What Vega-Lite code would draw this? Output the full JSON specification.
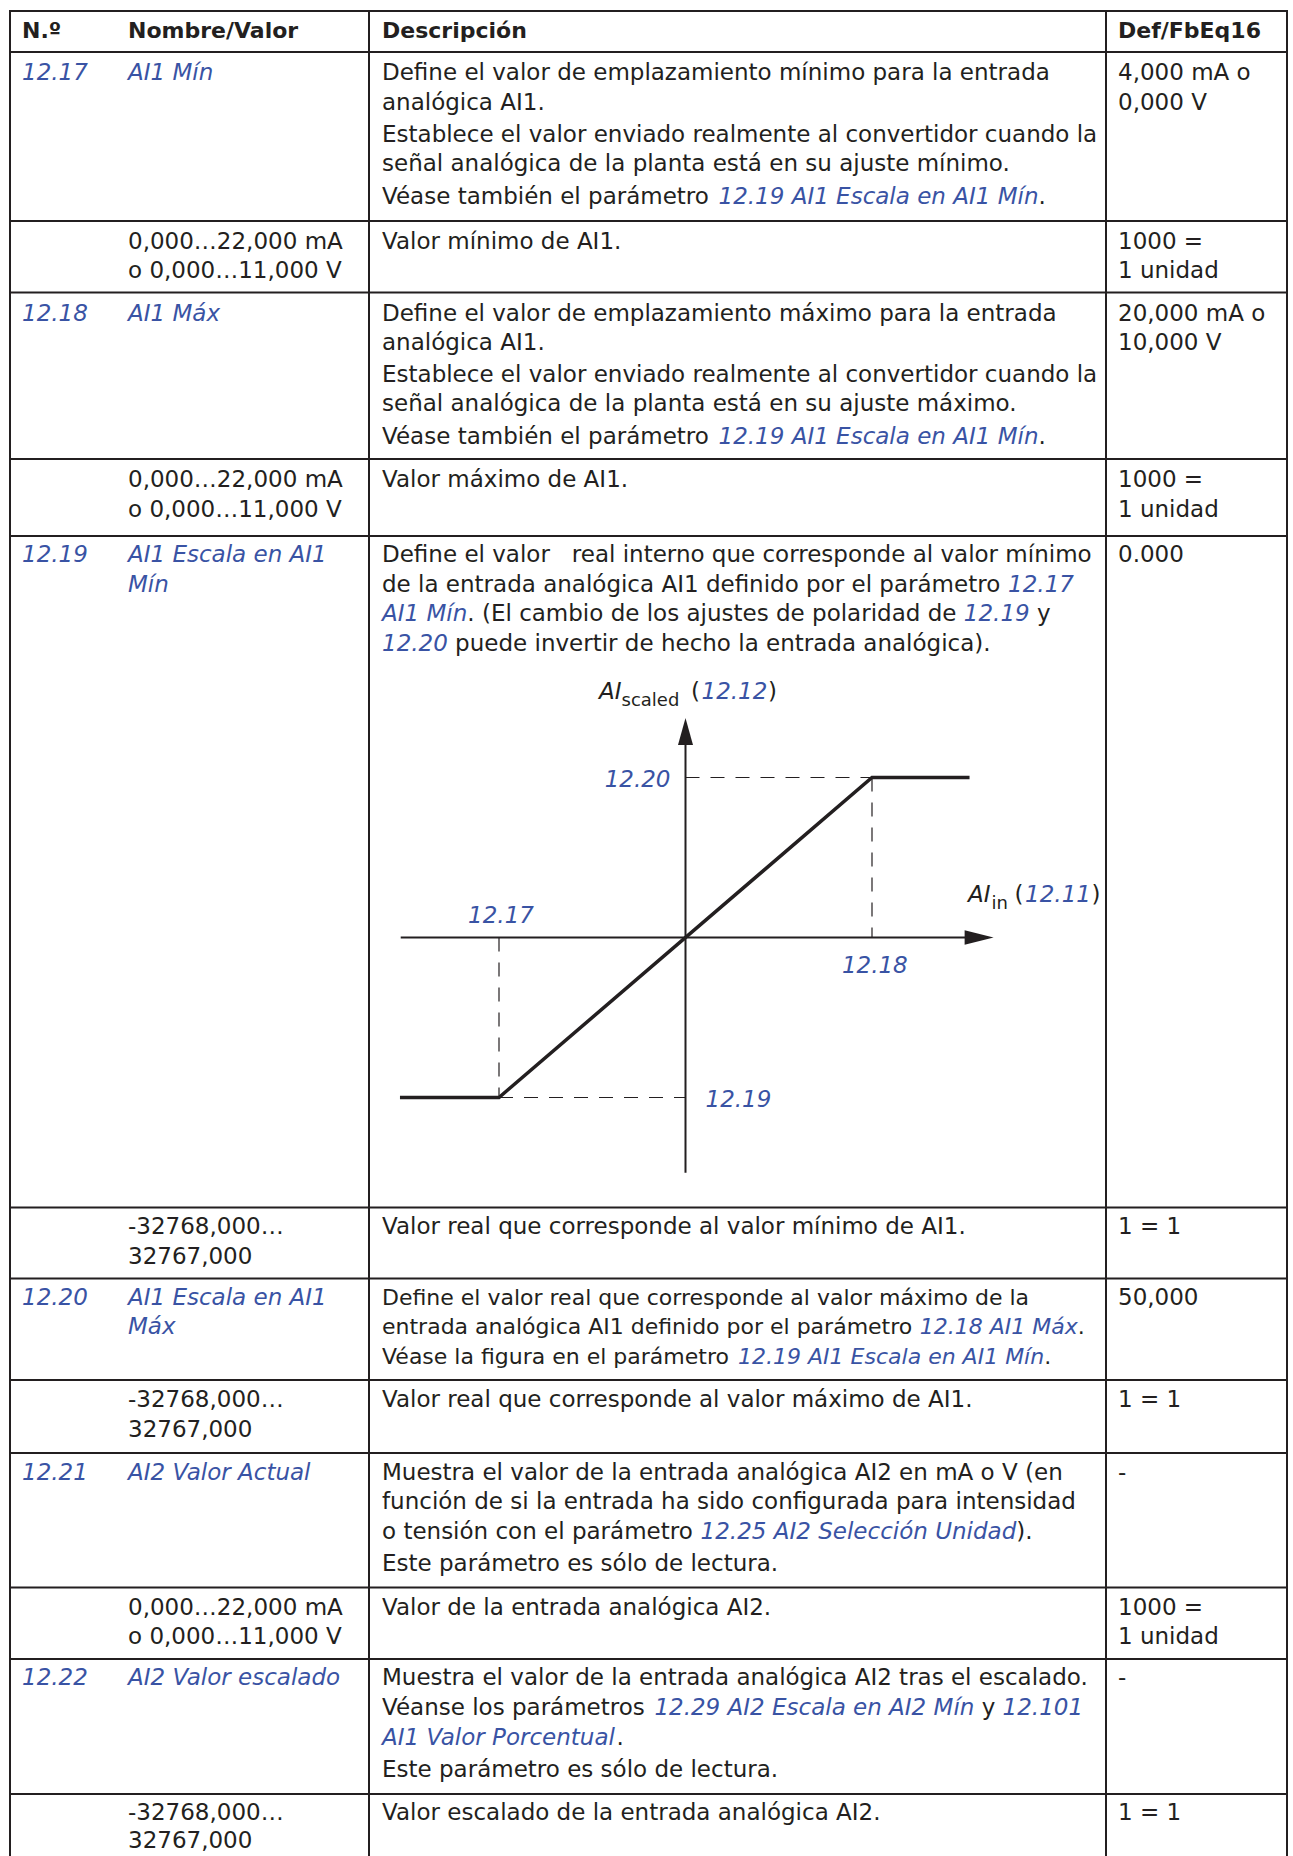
{
  "$schema": "https://vega.github.io/schema/vega-lite/v6.json",
  "width": 1293,
  "height": 1856,
  "padding": 0,
  "autosize": {"type": "none"},
  "background": "#ffffff",
  "config": {"view": {"stroke": null}},
  "datasets": {
    "hborders": [{"b":0},{"b":1},{"b":2},{"b":3},{"b":4},{"b":5},{"b":6},{"b":7},{"b":8},{"b":9},{"b":10},{"b":11},{"b":12}],
    "vborders": [{"e":0},{"e":1},{"e":2},{"e":3}],
    "cells": [
      {"g":0,"xs":0,"t":"N.º","k":"h"},
      {"g":0,"xs":1,"t":"Nombre/Valor","k":"h"},
      {"g":0,"xs":2,"t":"Descripción","k":"h"},
      {"g":0,"xs":3,"t":"Def/FbEq16","k":"h"},

      {"g":1,"xs":0,"t":"12.17","k":"a"},
      {"g":1,"xs":1,"t":"AI1 Mín","k":"a"},
      {"g":1,"xs":2,"t":"Define el valor de emplazamiento mínimo para la entrada","k":"n"},
      {"g":2,"xs":2,"t":"analógica AI1.","k":"n"},
      {"g":3,"xs":2,"t":"Establece el valor enviado realmente al convertidor cuando la","k":"n"},
      {"g":4,"xs":2,"t":"señal analógica de la planta está en su ajuste mínimo.","k":"n"},
      {"g":5,"xs":2,"t":"Véase también el parámetro","k":"n"},
      {"g":5,"xs":4,"t":"12.19 AI1 Escala en AI1 Mín","k":"a"},
      {"g":5,"xs":5,"t":".","k":"n"},
      {"g":1,"xs":3,"t":"4,000 mA o","k":"n"},
      {"g":2,"xs":3,"t":"0,000 V","k":"n"},

      {"g":6,"xs":1,"t":"0,000…22,000 mA","k":"n"},
      {"g":7,"xs":1,"t":"o 0,000…11,000 V","k":"n"},
      {"g":6,"xs":2,"t":"Valor mínimo de AI1.","k":"n"},
      {"g":6,"xs":3,"t":"1000 =","k":"n"},
      {"g":7,"xs":3,"t":"1 unidad","k":"n"},

      {"g":8,"xs":0,"t":"12.18","k":"a"},
      {"g":8,"xs":1,"t":"AI1 Máx","k":"a"},
      {"g":8,"xs":2,"t":"Define el valor de emplazamiento máximo para la entrada","k":"n"},
      {"g":9,"xs":2,"t":"analógica AI1.","k":"n"},
      {"g":10,"xs":2,"t":"Establece el valor enviado realmente al convertidor cuando la","k":"n"},
      {"g":11,"xs":2,"t":"señal analógica de la planta está en su ajuste máximo.","k":"n"},
      {"g":12,"xs":2,"t":"Véase también el parámetro","k":"n"},
      {"g":12,"xs":4,"t":"12.19 AI1 Escala en AI1 Mín","k":"a"},
      {"g":12,"xs":5,"t":".","k":"n"},
      {"g":8,"xs":3,"t":"20,000 mA o","k":"n"},
      {"g":9,"xs":3,"t":"10,000 V","k":"n"},

      {"g":13,"xs":1,"t":"0,000…22,000 mA","k":"n"},
      {"g":14,"xs":1,"t":"o 0,000…11,000 V","k":"n"},
      {"g":13,"xs":2,"t":"Valor máximo de AI1.","k":"n"},
      {"g":13,"xs":3,"t":"1000 =","k":"n"},
      {"g":14,"xs":3,"t":"1 unidad","k":"n"},

      {"g":15,"xs":0,"t":"12.19","k":"a"},
      {"g":15,"xs":1,"t":"AI1 Escala en AI1","k":"a"},
      {"g":16,"xs":1,"t":"Mín","k":"a"},
      {"g":15,"xs":2,"t":"Define el valor\u00a0\u00a0 real interno que corresponde al valor mínimo","k":"n"},
      {"g":16,"xs":2,"t":"de la entrada analógica AI1 definido por el parámetro","k":"n"},
      {"g":16,"xs":6,"t":"12.17","k":"a"},
      {"g":17,"xs":2,"t":"AI1 Mín","k":"a"},
      {"g":17,"xs":7,"t":". (El cambio de los ajustes de polaridad de","k":"n"},
      {"g":17,"xs":8,"t":"12.19","k":"a"},
      {"g":17,"xs":9,"t":"y","k":"n"},
      {"g":18,"xs":2,"t":"12.20","k":"a"},
      {"g":18,"xs":10,"t":"puede invertir de hecho la entrada analógica).","k":"n"},
      {"g":15,"xs":3,"t":"0.000","k":"n"},

      {"g":19,"xs":1,"t":"-32768,000…","k":"n"},
      {"g":20,"xs":1,"t":"32767,000","k":"n"},
      {"g":19,"xs":2,"t":"Valor real que corresponde al valor mínimo de AI1.","k":"n"},
      {"g":19,"xs":3,"t":"1 = 1","k":"n"},

      {"g":21,"xs":0,"t":"12.20","k":"a"},
      {"g":21,"xs":1,"t":"AI1 Escala en AI1","k":"a"},
      {"g":22,"xs":1,"t":"Máx","k":"a"},
      {"g":21,"xs":2,"t":"Define el valor real que corresponde al valor máximo de la","k":"n"},
      {"g":22,"xs":2,"t":"entrada analógica AI1 definido por el parámetro","k":"n"},
      {"g":22,"xs":11,"t":"12.18 AI1 Máx","k":"a"},
      {"g":22,"xs":12,"t":".","k":"n"},
      {"g":23,"xs":2,"t":"Véase la figura en el parámetro","k":"n"},
      {"g":23,"xs":13,"t":"12.19 AI1 Escala en AI1 Mín","k":"a"},
      {"g":23,"xs":14,"t":".","k":"n"},
      {"g":21,"xs":3,"t":"50,000","k":"n"},

      {"g":24,"xs":1,"t":"-32768,000…","k":"n"},
      {"g":25,"xs":1,"t":"32767,000","k":"n"},
      {"g":24,"xs":2,"t":"Valor real que corresponde al valor máximo de AI1.","k":"n"},
      {"g":24,"xs":3,"t":"1 = 1","k":"n"},

      {"g":26,"xs":0,"t":"12.21","k":"a"},
      {"g":26,"xs":1,"t":"AI2 Valor Actual","k":"a"},
      {"g":26,"xs":2,"t":"Muestra el valor de la entrada analógica AI2 en mA o V (en","k":"n"},
      {"g":27,"xs":2,"t":"función de si la entrada ha sido configurada para intensidad","k":"n"},
      {"g":28,"xs":2,"t":"o tensión con el parámetro","k":"n"},
      {"g":28,"xs":15,"t":"12.25 AI2 Selección Unidad","k":"a"},
      {"g":28,"xs":16,"t":").","k":"n"},
      {"g":29,"xs":2,"t":"Este parámetro es sólo de lectura.","k":"n"},
      {"g":26,"xs":3,"t":"-","k":"n"},

      {"g":30,"xs":1,"t":"0,000…22,000 mA","k":"n"},
      {"g":31,"xs":1,"t":"o 0,000…11,000 V","k":"n"},
      {"g":30,"xs":2,"t":"Valor de la entrada analógica AI2.","k":"n"},
      {"g":30,"xs":3,"t":"1000 =","k":"n"},
      {"g":31,"xs":3,"t":"1 unidad","k":"n"},

      {"g":32,"xs":0,"t":"12.22","k":"a"},
      {"g":32,"xs":1,"t":"AI2 Valor escalado","k":"a"},
      {"g":32,"xs":2,"t":"Muestra el valor de la entrada analógica AI2 tras el escalado.","k":"n"},
      {"g":33,"xs":2,"t":"Véanse los parámetros","k":"n"},
      {"g":33,"xs":17,"t":"12.29 AI2 Escala en AI2 Mín","k":"a"},
      {"g":33,"xs":18,"t":"y","k":"n"},
      {"g":33,"xs":19,"t":"12.101","k":"a"},
      {"g":34,"xs":2,"t":"AI1 Valor Porcentual","k":"a"},
      {"g":34,"xs":20,"t":".","k":"n"},
      {"g":35,"xs":2,"t":"Este parámetro es sólo de lectura.","k":"n"},
      {"g":32,"xs":3,"t":"-","k":"n"},

      {"g":36,"xs":1,"t":"-32768,000…","k":"n"},
      {"g":37,"xs":1,"t":"32767,000","k":"n"},
      {"g":36,"xs":2,"t":"Valor escalado de la entrada analógica AI2.","k":"n"},
      {"g":36,"xs":3,"t":"1 = 1","k":"n"}
    ],
    "guides": [
      {"ain":0,"asc":1,"ain2":1,"asc2":1},
      {"ain":1,"asc":1,"ain2":1,"asc2":0},
      {"ain":-1,"asc":0,"ain2":-1,"asc2":-1},
      {"ain":-1,"asc":-1,"ain2":0,"asc2":-1}
    ],
    "axes": [
      {"ain":-1.527,"asc":0,"ain2":1.56,"asc2":0},
      {"ain":0,"asc":-1.47,"ain2":0,"asc2":1.25}
    ],
    "curve": [
      {"o":0,"ain":-1.531,"asc":-1},
      {"o":1,"ain":-1,"asc":-1},
      {"o":2,"ain":1,"asc":1},
      {"o":3,"ain":1.523,"asc":1}
    ],
    "tips": [
      {"axis":"scaled","ain":0,"asc":1.372},
      {"axis":"in","ain":1.652,"asc":0}
    ]
  },
  "layer": [
    {
      "data": {"name": "hborders"},
      "mark": {"type": "rule", "color": "#231f20", "strokeWidth": 2, "strokeCap": "square"},
      "encoding": {
        "y": {"field": "b", "type": "quantitative", "axis": null,
              "scale": {"domain": [0,1,2,3,4,5,6,7,8,9,10,11,12,13], "range": [11,52,221,292.5,459,536,1207.5,1278.5,1380,1453,1587.5,1659,1794,1856], "nice": false, "zero": false}},
        "x": {"datum": 0, "type": "quantitative", "axis": null,
              "scale": {"domain": [0,1,2,3], "range": [10,369,1106,1287], "nice": false, "zero": false}},
        "x2": {"datum": 3}
      }
    },
    {
      "data": {"name": "vborders"},
      "mark": {"type": "rule", "color": "#231f20", "strokeWidth": 2, "strokeCap": "square"},
      "encoding": {
        "x": {"field": "e", "type": "quantitative", "axis": null,
              "scale": {"domain": [0,1,2,3], "range": [10,369,1106,1287], "nice": false, "zero": false}},
        "y": {"datum": 0, "type": "quantitative", "axis": null,
              "scale": {"domain": [0,1,2,3,4,5,6,7,8,9,10,11,12,13], "range": [11,52,221,292.5,459,536,1207.5,1278.5,1380,1453,1587.5,1659,1794,1858], "nice": false, "zero": false}},
        "y2": {"datum": 13}
      }
    },
    {
      "data": {"name": "cells"},
      "encoding": {
        "x": {"field": "xs", "type": "quantitative", "axis": null,
              "scale": {"domain": [0,1,2,3,4,5,6,7,8,9,10,11,12,13,14,15,16,17,18,19,20],
                        "range": [22,128,382,1118,718.5,1038.5,1008.1,467.3,963.8,1036.9,455.1,919.8,1077.8,738.1,1044.2,700.6,1016.3,654.4,981.7,1002.6,616.4],
                        "nice": false, "zero": false}},
        "y": {"field": "g", "type": "quantitative", "axis": null,
              "scale": {"domain": [0,1,2,3,4,5,6,7,8,9,10,11,12,13,14,15,16,17,18,19,20,21,22,23,24,25,26,27,28,29,30,31,32,33,34,35,36,37],
                        "range": [38,80,109.5,141.5,171,203.5,249,277.5,320.5,349.5,382,411,443.5,487,516.5,562,592,621,651,1233.5,1263.5,1305,1334,1364,1406.5,1436.5,1480,1509,1538.5,1571,1615,1643.5,1685,1715,1745,1776.5,1820,1848],
                        "nice": false, "zero": false}},
        "text": {"field": "t", "type": "nominal"}
      },
      "layer": [
        {"transform": [{"filter": "datum.k == 'h'"}],
         "mark": {"type": "text", "align": "left", "baseline": "alphabetic", "font": "DejaVu Sans", "fontSize": 22, "fontWeight": "bold", "color": "#231f20"}},
        {"transform": [{"filter": "datum.k == 'n' && !(datum.g >= 21 && datum.g <= 23 && (datum.xs == 2 || datum.xs >= 4))"}],
         "mark": {"type": "text", "align": "left", "baseline": "alphabetic", "font": "DejaVu Sans", "fontSize": 23, "color": "#231f20"}},
        {"transform": [{"filter": "datum.k == 'a' && !(datum.g >= 21 && datum.g <= 23 && (datum.xs == 2 || datum.xs >= 4))"}],
         "mark": {"type": "text", "align": "left", "baseline": "alphabetic", "font": "DejaVu Sans", "fontSize": 23, "fontStyle": "italic", "color": "#3953a4"}},
        {"transform": [{"filter": "datum.k == 'n' && (datum.g >= 21 && datum.g <= 23 && (datum.xs == 2 || datum.xs >= 4))"}],
         "mark": {"type": "text", "align": "left", "baseline": "alphabetic", "font": "DejaVu Sans", "fontSize": 22, "color": "#231f20"}},
        {"transform": [{"filter": "datum.k == 'a' && (datum.g >= 21 && datum.g <= 23 && (datum.xs == 2 || datum.xs >= 4))"}],
         "mark": {"type": "text", "align": "left", "baseline": "alphabetic", "font": "DejaVu Sans", "fontSize": 22, "fontStyle": "italic", "color": "#3953a4"}}
      ]
    },
    {
      "encoding": {
        "x": {"field": "ain", "type": "quantitative", "axis": null,
              "scale": {"domain": [-1, 1], "range": [499, 872], "nice": false, "zero": false}},
        "y": {"field": "asc", "type": "quantitative", "axis": null,
              "scale": {"domain": [-1, 1], "range": [1097.5, 777.5], "nice": false, "zero": false}}
      },
      "layer": [
        {"data": {"name": "guides"},
         "mark": {"type": "rule", "color": "#231f20", "strokeWidth": 1.2, "strokeDash": [14, 11]},
         "encoding": {"x2": {"field": "ain2"}, "y2": {"field": "asc2"}}},
        {"data": {"name": "axes"},
         "mark": {"type": "rule", "color": "#231f20", "strokeWidth": 2},
         "encoding": {"x2": {"field": "ain2"}, "y2": {"field": "asc2"}}},
        {"data": {"name": "curve"},
         "mark": {"type": "line", "color": "#231f20", "strokeWidth": 3.5, "strokeJoin": "miter"},
         "encoding": {"order": {"field": "o", "type": "quantitative"}}},
        {"data": {"name": "tips"},
         "transform": [{"filter": "datum.axis == 'scaled'"}],
         "mark": {"type": "point", "shape": "M0,0L0.536,1.929L-0.536,1.929Z", "size": 784, "filled": true, "opacity": 1, "color": "#231f20", "strokeWidth": 0}},
        {"data": {"name": "tips"},
         "transform": [{"filter": "datum.axis == 'in'"}],
         "mark": {"type": "point", "shape": "M0,0L-2.071,-0.52L-2.071,0.52Z", "size": 784, "filled": true, "opacity": 1, "color": "#231f20", "strokeWidth": 0}},
        {"data": {"values": [{"ain": 0, "asc": 1, "t": "12.20"}]},
         "mark": {"type": "text", "align": "right", "baseline": "alphabetic", "dx": -15, "dy": 9.5, "font": "DejaVu Sans", "fontSize": 23, "fontStyle": "italic", "color": "#3953a4"},
         "encoding": {"text": {"field": "t"}}},
        {"data": {"values": [{"ain": 0, "asc": -1, "t": "12.19"}]},
         "mark": {"type": "text", "align": "left", "baseline": "alphabetic", "dx": 20, "dy": 9.2, "font": "DejaVu Sans", "fontSize": 23, "fontStyle": "italic", "color": "#3953a4"},
         "encoding": {"text": {"field": "t"}}},
        {"data": {"values": [{"ain": -1, "asc": 0, "t": "12.17"}]},
         "mark": {"type": "text", "align": "center", "baseline": "alphabetic", "dx": 2, "dy": -14.8, "font": "DejaVu Sans", "fontSize": 23, "fontStyle": "italic", "color": "#3953a4"},
         "encoding": {"text": {"field": "t"}}},
        {"data": {"values": [{"ain": 1, "asc": 0, "t": "12.18"}]},
         "mark": {"type": "text", "align": "center", "baseline": "alphabetic", "dx": 2.8, "dy": 35.8, "font": "DejaVu Sans", "fontSize": 23, "fontStyle": "italic", "color": "#3953a4"},
         "encoding": {"text": {"field": "t"}}},

        {"data": {"values": [{"ain": 0, "asc": 1.372, "t": "AI"}]},
         "mark": {"type": "text", "align": "left", "baseline": "alphabetic", "dx": -86.5, "dy": -19, "font": "DejaVu Sans", "fontSize": 23, "fontStyle": "italic", "color": "#231f20"},
         "encoding": {"text": {"field": "t"}}},
        {"data": {"values": [{"ain": 0, "asc": 1.372, "t": "scaled"}]},
         "mark": {"type": "text", "align": "left", "baseline": "alphabetic", "dx": -64, "dy": -12, "font": "DejaVu Sans", "fontSize": 18, "color": "#231f20"},
         "encoding": {"text": {"field": "t"}}},
        {"data": {"values": [{"ain": 0, "asc": 1.372, "t": "("}]},
         "mark": {"type": "text", "align": "left", "baseline": "alphabetic", "dx": 5.5, "dy": -19, "font": "DejaVu Sans", "fontSize": 23, "color": "#231f20"},
         "encoding": {"text": {"field": "t"}}},
        {"data": {"values": [{"ain": 0, "asc": 1.372, "t": "12.12"}]},
         "mark": {"type": "text", "align": "left", "baseline": "alphabetic", "dx": 16, "dy": -19, "font": "DejaVu Sans", "fontSize": 23, "fontStyle": "italic", "color": "#3953a4"},
         "encoding": {"text": {"field": "t"}}},
        {"data": {"values": [{"ain": 0, "asc": 1.372, "t": ")"}]},
         "mark": {"type": "text", "align": "left", "baseline": "alphabetic", "dx": 82.5, "dy": -19, "font": "DejaVu Sans", "fontSize": 23, "color": "#231f20"},
         "encoding": {"text": {"field": "t"}}},

        {"data": {"values": [{"ain": 1.652, "asc": 0, "t": "AI"}]},
         "mark": {"type": "text", "align": "left", "baseline": "alphabetic", "dx": -25.6, "dy": -35.8, "font": "DejaVu Sans", "fontSize": 23, "fontStyle": "italic", "color": "#231f20"},
         "encoding": {"text": {"field": "t"}}},
        {"data": {"values": [{"ain": 1.652, "asc": 0, "t": "in"}]},
         "mark": {"type": "text", "align": "left", "baseline": "alphabetic", "dx": -2.1, "dy": -28.2, "font": "DejaVu Sans", "fontSize": 18, "color": "#231f20"},
         "encoding": {"text": {"field": "t"}}},
        {"data": {"values": [{"ain": 1.652, "asc": 0, "t": "("}]},
         "mark": {"type": "text", "align": "left", "baseline": "alphabetic", "dx": 21, "dy": -35.8, "font": "DejaVu Sans", "fontSize": 23, "color": "#231f20"},
         "encoding": {"text": {"field": "t"}}},
        {"data": {"values": [{"ain": 1.652, "asc": 0, "t": "12.11"}]},
         "mark": {"type": "text", "align": "left", "baseline": "alphabetic", "dx": 31.5, "dy": -35.8, "font": "DejaVu Sans", "fontSize": 23, "fontStyle": "italic", "color": "#3953a4"},
         "encoding": {"text": {"field": "t"}}},
        {"data": {"values": [{"ain": 1.652, "asc": 0, "t": ")"}]},
         "mark": {"type": "text", "align": "left", "baseline": "alphabetic", "dx": 98, "dy": -35.8, "font": "DejaVu Sans", "fontSize": 23, "color": "#231f20"},
         "encoding": {"text": {"field": "t"}}}
      ]
    }
  ],
  "resolve": {"scale": {"x": "independent", "y": "independent"}}
}
